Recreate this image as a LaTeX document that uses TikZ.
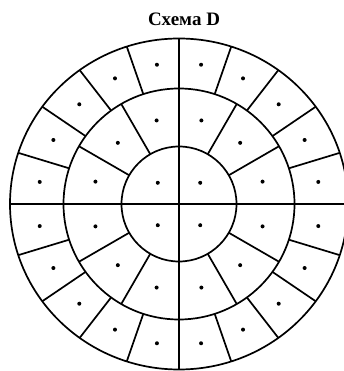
\documentclass[tikz,border=0pt]{standalone}
\usepackage{fontspec}
\setmainfont{Liberation Serif}
\usepackage{tikz}

\begin{document}
\begin{tikzpicture}[x=1pt, y=1pt, line width=1.7pt]
	\useasboundingbox (-179,-167) rectangle (165,204);
	\node[font=\bfseries\fontsize{19}{21}\selectfont] (title) at (5,185) {Схема D};
	\draw (0,0) ellipse (169 and 165.5);
	\draw (0,0) circle (115.5);
	\draw (0,0) circle (57.5);
	\draw (-169,0) -- (172,0);
	\draw (0,-165.5) -- (0,165.5);
	\foreach \a in {18,36,54,72,108,126,144,162,198,216,234,252,288,306,324,342}
		\draw (\a:115.5) -- (\a:169 and 165.5);
	\foreach \a in {30,60,120,150,210,240,300,330}
		\draw (\a:57.5) -- (\a:115.5);
	\foreach \a in {9,27,...,351}
		\fill (\a:141) circle (2);
	\foreach \a in {15,45,...,345}
		\fill (\a:86.5) circle (2);
	\foreach \a in {45,135,225,315}
		\fill (\a:30) circle (2);
\end{tikzpicture}
\end{document}
